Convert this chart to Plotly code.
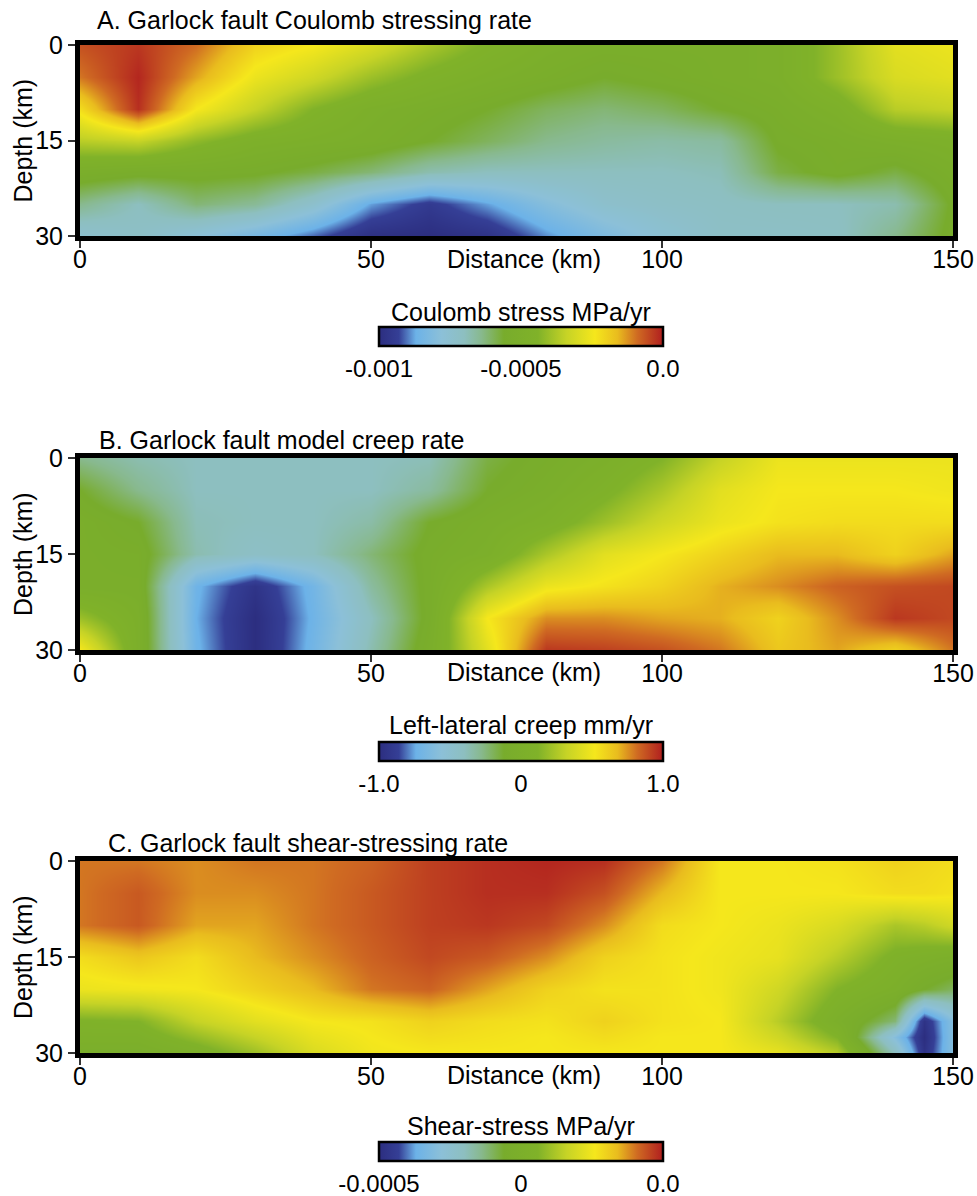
import plotly.graph_objects as go

# ---------------- data ----------------
distance_km = [0, 10, 20, 30, 40, 50, 60, 70, 80, 90, 100, 110, 120, 130, 140, 150]
depth_km = [0, 5, 10, 15, 20, 25, 30]
# panel C uses a slightly finer node set near its lower-right corner
distance_km_c = [0, 10, 20, 30, 40, 50, 60, 70, 80, 90, 100, 110, 120, 130, 140, 145, 150]
depth_km_c = [0, 5, 10, 15, 20, 25, 27.5, 30]

# A. Coulomb stressing rate (units of 1e-4 MPa/yr), rows = depth
coulomb_e4 = [
    [-0.6, -0.3, -0.9, -2.0, -2.4, -3.0, -3.8, -4.5, -5.0, -5.2, -5.2, -5.2, -5.0, -4.0, -2.8, -2.6],
    [-1.0, -0.1, -1.4, -2.6, -3.2, -4.0, -4.6, -5.0, -5.3, -5.6, -5.4, -5.2, -5.0, -4.0, -3.0, -2.8],
    [-2.2, -0.2, -2.4, -3.4, -4.4, -5.0, -5.3, -5.6, -6.0, -6.2, -6.0, -5.6, -5.3, -4.8, -3.6, -3.4],
    [-3.6, -3.4, -4.2, -4.8, -5.0, -5.2, -5.6, -6.0, -6.4, -6.6, -6.7, -6.6, -5.5, -5.3, -5.0, -4.8],
    [-5.2, -5.4, -5.4, -5.5, -5.8, -6.2, -6.8, -7.0, -7.0, -7.0, -7.0, -6.9, -5.8, -5.4, -5.8, -5.2],
    [-6.4, -7.0, -6.2, -6.5, -7.4, -8.8, -9.5, -8.8, -8.0, -7.4, -7.2, -7.1, -7.0, -7.0, -6.8, -5.5],
    [-7.5, -7.2, -7.8, -8.4, -9.1, -9.9, -10.0, -9.8, -8.9, -8.2, -7.6, -7.2, -7.2, -7.1, -6.4, -5.4],
]

# B. Left-lateral creep rate (mm/yr)
creep_mm = [
    [-0.28, -0.36, -0.40, -0.40, -0.40, -0.40, -0.38, -0.16, -0.08, 0.00, 0.12, 0.32, 0.48, 0.48, 0.48, 0.48],
    [-0.12, -0.28, -0.40, -0.40, -0.40, -0.40, -0.32, -0.12, -0.04, 0.08, 0.24, 0.44, 0.52, 0.52, 0.52, 0.50],
    [-0.04, -0.12, -0.38, -0.40, -0.40, -0.34, -0.12, -0.04, 0.04, 0.20, 0.36, 0.48, 0.54, 0.56, 0.56, 0.56],
    [-0.04, -0.06, -0.36, -0.44, -0.40, -0.24, -0.08, 0.00, 0.24, 0.44, 0.52, 0.60, 0.68, 0.68, 0.60, 0.72],
    [-0.04, -0.04, -0.72, -0.95, -0.70, -0.32, -0.08, 0.24, 0.48, 0.54, 0.60, 0.70, 0.76, 0.84, 0.88, 0.90],
    [0.20, 0.00, -0.74, -1.00, -0.72, -0.40, -0.08, 0.52, 0.76, 0.76, 0.72, 0.70, 0.60, 0.76, 0.94, 0.90],
    [0.52, 0.00, -0.72, -1.00, -0.70, -0.36, -0.04, 0.44, 0.94, 0.92, 0.88, 0.80, 0.64, 0.72, 0.60, 0.80],
]

# C. Shear-stressing rate (units of 1e-4 MPa/yr)
shear_e4 = [
    [4.0, 4.0, 3.8, 4.0, 4.0, 4.2, 4.6, 4.8, 4.9, 4.8, 4.0, 2.6, 2.6, 2.7, 3.0, 2.9, 2.8],
    [4.0, 4.3, 3.8, 3.8, 4.0, 4.3, 4.6, 4.8, 4.8, 4.4, 3.4, 2.6, 2.6, 2.6, 2.8, 2.8, 2.7],
    [4.0, 4.3, 3.6, 3.6, 4.0, 4.3, 4.6, 4.7, 4.5, 3.8, 2.8, 2.6, 2.4, 2.0, 1.2, 1.4, 1.8],
    [2.8, 3.2, 2.8, 3.4, 3.8, 4.2, 4.5, 4.3, 3.8, 3.0, 2.7, 2.5, 2.3, 1.4, 0.4, 0.2, 0.0],
    [2.4, 2.5, 2.6, 3.0, 3.4, 4.0, 4.2, 3.6, 3.0, 2.7, 2.7, 2.5, 1.8, 0.6, 0.0, -0.6, -1.0],
    [0.5, 0.6, 1.6, 2.2, 2.6, 2.7, 3.0, 2.8, 2.7, 3.0, 2.7, 2.6, 1.4, 0.0, -1.2, -4.8, -3.0],
    [0.2, 0.2, 0.9, 1.6, 2.3, 2.6, 2.8, 2.7, 2.6, 2.8, 2.6, 2.6, 1.8, 0.6, -3.0, -5.0, -3.0],
    [-0.2, -0.2, 0.2, 1.0, 2.0, 2.5, 2.6, 2.6, 2.6, 2.6, 2.6, 2.6, 2.3, 1.4, -2.0, -4.8, -3.0],
]

titles = ["A. Garlock fault Coulomb stressing rate",
          "B. Garlock fault model creep rate",
          "C. Garlock fault shear-stressing rate"]
cbar_titles = ["Coulomb stress MPa/yr", "Left-lateral creep mm/yr", "Shear-stress MPa/yr"]
x_ticks = [0, 50, 100, 150]
y_ticks = [0, 15, 30]
cb_ranges = [(-0.001, 0.0), (-1.0, 1.0), (-0.0005, 0.0005)]
cb_tickvals = [[-0.001, -0.0005, 0.0], [-1.0, 0.0, 1.0], [-0.0005, 0.0, 0.0005]]
cb_ticktext = [["-0.001", "-0.0005", "0.0"], ["-1.0", "0", "1.0"], ["-0.0005", "0", "0.0"]]

# ---------------- styling ----------------
W, H = 977, 1196
FONT = "Liberation Sans, Arial, Helvetica, sans-serif"
FS = 25
colorscale = [
    [0.00, "#2c2e80"], [0.07, "#353f96"], [0.13, "#6cb2e8"], [0.22, "#8cc0d8"],
    [0.30, "#8dbfc0"], [0.36, "#88b98e"], [0.44, "#78ac2c"], [0.56, "#80b229"],
    [0.66, "#c6d326"], [0.76, "#f5e71c"], [0.84, "#e9bc1e"], [0.91, "#cf6a22"],
    [1.00, "#b01e1f"],
]

def px_x(p):
    return p / W

def px_y(p):
    return 1 - p / H

plot_left, plot_right = 80, 953
panel_tops = [45, 458, 861]
panel_bottoms = [236, 650, 1053]
title_y = [20, 440, 843]
title_x = [95, 97, 106]
dist_label_y = [259, 672, 1075]
cb_bar_top = [327, 742, 1142]
cb_title_y = [312, 725, 1126]

fields = [
    [[v * 1e-4 for v in row] for row in coulomb_e4],
    creep_mm,
    [[v * 1e-4 for v in row] for row in shear_e4],
]
xs = [distance_km, distance_km, distance_km_c]
ys = [depth_km, depth_km, depth_km_c]

fig = go.Figure()
annotations = []
layout_axes = {}
for i in range(3):
    sfx = "" if i == 0 else str(i + 1)
    cax = "coloraxis" + sfx
    fig.add_trace(go.Heatmap(
        x=xs[i], y=ys[i], z=fields[i], zsmooth="best",
        coloraxis=cax, xaxis="x" + sfx, yaxis="y" + sfx, hoverinfo="skip",
    ))
    common = dict(showgrid=False, zeroline=False, showline=True, linewidth=5,
                  linecolor="black", mirror=True, ticks="outside", ticklen=7,
                  tickwidth=2, tickcolor="#333333", automargin=False,
                  tickfont=dict(size=FS, color="black", family=FONT))
    layout_axes["xaxis" + sfx] = dict(
        domain=[px_x(plot_left), px_x(plot_right)], range=[0, 150],
        tickvals=x_ticks, anchor="y" + sfx, ticklabelstandoff=-10, **common)
    layout_axes["yaxis" + sfx] = dict(
        domain=[px_y(panel_bottoms[i]), px_y(panel_tops[i])], range=[30, 0],
        tickvals=y_ticks, anchor="x" + sfx, **common)
    layout_axes[cax] = dict(
        colorscale=colorscale, cmin=cb_ranges[i][0], cmax=cb_ranges[i][1],
        colorbar=dict(
            orientation="h", x=px_x(521), xanchor="center",
            y=px_y(cb_bar_top[i]), yanchor="top", ypad=0, xpad=0,
            len=284, lenmode="pixels", thickness=19, thicknessmode="pixels",
            outlinewidth=2.5, outlinecolor="black", ticks="",
            tickvals=cb_tickvals[i], ticktext=cb_ticktext[i],
            tickfont=dict(size=24, color="black", family=FONT),
        ))
    annotations.append(dict(
        text=titles[i], x=px_x(title_x[i]), y=px_y(title_y[i]), xref="paper", yref="paper",
        xanchor="left", yanchor="middle", showarrow=False,
        font=dict(size=FS, color="black", family=FONT)))
    annotations.append(dict(
        text="Distance (km)", x=px_x(524), y=px_y(dist_label_y[i]), xref="paper", yref="paper",
        xanchor="center", yanchor="middle", showarrow=False,
        font=dict(size=FS, color="black", family=FONT)))
    annotations.append(dict(
        text="Depth (km)", x=px_x(23), y=px_y((panel_tops[i] + panel_bottoms[i]) / 2),
        xref="paper", yref="paper", xanchor="center", yanchor="middle",
        textangle=-90, showarrow=False,
        font=dict(size=FS, color="black", family=FONT)))
    annotations.append(dict(
        text=cbar_titles[i], x=px_x(521), y=px_y(cb_title_y[i]), xref="paper", yref="paper",
        xanchor="center", yanchor="middle", showarrow=False,
        font=dict(size=FS, color="black", family=FONT)))

fig.update_layout(
    width=W, height=H, margin=dict(l=0, r=0, t=0, b=0, autoexpand=False),
    paper_bgcolor="white", plot_bgcolor="white",
    font=dict(family=FONT, color="black"),
    annotations=annotations, showlegend=False, **layout_axes,
)

fig.write_html("out.html", config={"displayModeBar": False},
               post_script="document.body.style.margin='0';document.body.style.overflow='hidden';")
